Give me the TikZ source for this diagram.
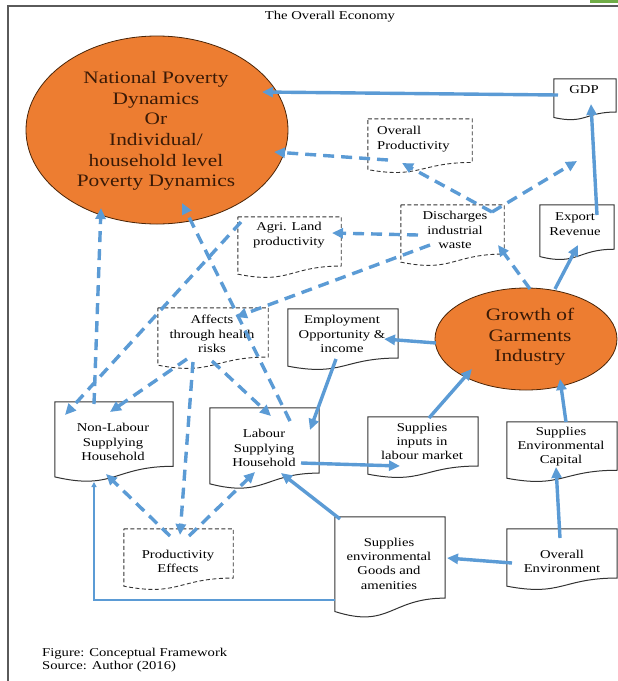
\documentclass[tikz,border=0pt]{standalone}
\usepackage{fontspec}
\setmainfont{Liberation Serif}[FakeStretch=1.22]
\usetikzlibrary{arrows.meta,shapes.geometric,calc}
\definecolor{lineblue}{HTML}{5B9BD5}
\definecolor{orangefill}{HTML}{ED7D31}
\definecolor{ellborder}{HTML}{4A2508}
\definecolor{elltext}{HTML}{3A1A06}
\definecolor{framegray}{HTML}{5A5A5A}
\definecolor{greenbit}{HTML}{70AD47}
% document-shaped box: name, style, x1, y1, x2, y2 (pixel coords, y downwards)
\newcommand\docshape[6]{%
  \node[inner sep=0pt, minimum width={(#5-#3)*1pt}, minimum height={(#6-#4)*1pt}] (#1) at ({(#3+#5)/2},{(#4+#6)/2}) {};
  \draw[#2] (#1.north west) -- (#1.north east) -- ($(#1.north east)!0.802!(#1.south east)$)
    .. controls ($(#1.north)!0.802!(#1.south)$) and ($(#1.north)!1.107!(#1.south)$) .. ($(#1.north west)!0.934!(#1.south west)$) -- cycle;
}
\begin{document}
\begin{tikzpicture}[x=1pt,y=-1pt,
  sarrow/.style={draw=lineblue, line width=3.4pt, -{Triangle[length=11pt,width=10pt]}},
  darrow/.style={sarrow, dash pattern=on 11pt off 7pt},
  thinarrow/.style={draw=lineblue, line width=1.8pt, -{Triangle[length=5pt,width=5pt]}},
  sbox/.style={draw=black!80, line width=1pt},
  dbox/.style={draw=black!80, line width=0.9pt, dash pattern=on 4pt off 2.5pt},
  txt/.style={font=\fontsize{12}{14.3}\selectfont, align=center, inner sep=0pt},
  bigtxt/.style={font=\fontsize{17.5}{20.6}\selectfont, align=center, inner sep=0pt, text=elltext},
  orangeell/.style={ellipse, draw=ellborder, fill=orangefill, line width=0.8pt, inner sep=0pt}]
\useasboundingbox (0,0) rectangle (618,681);
\fill[white] (0,0) rectangle (618,681);
\fill[greenbit] (590,0) rectangle (618,3);
\draw[framegray, line width=2pt] (8,700) -- (8,6) -- (630,6);

\node[txt] (title) at (330,17) {The Overall Economy};

% ellipses
\node[orangeell, minimum width=262pt, minimum height=188pt] (pov) at (157,130) {};
\node[orangeell, minimum width=182pt, minimum height=102pt] (gr) at (526,339) {};
\node[bigtxt] (povt) at (156,131) {National Poverty\\Dynamics\\Or\\Individual/\\household level\\Poverty Dynamics};
\node[bigtxt] (grt) at (530,337) {Growth of\\Garments\\Industry};

% boxes
\docshape{gdp}{sbox}{554}{79}{616}{120}
\docshape{ovp}{dbox}{368}{119}{472}{173}
\docshape{agri}{dbox}{238}{217}{341}{278}
\docshape{dis}{dbox}{401}{205}{504}{266}
\docshape{exrev}{sbox}{540}{205}{614}{260}
\docshape{aff}{dbox}{158}{308}{268}{369}
\docshape{emp}{sbox}{288}{309}{398}{370}
\docshape{nl}{sbox}{55}{402}{173}{482}
\docshape{lab}{sbox}{210}{408}{319}{489}
\docshape{inp}{sbox}{368}{417}{478}{478}
\docshape{envcap}{sbox}{507}{422}{617}{482}
\docshape{goods}{sbox}{335}{517}{445}{618}
\docshape{oenv}{sbox}{507}{529}{617}{590}
\docshape{pe}{dbox}{124}{529}{233}{590}

% box texts
\node[txt] (gdpt) at (584,90) {GDP};
\node[txt, align=left, anchor=west] (ovpt) at (377,139) {Overall\\Productivity};
\node[txt] (agrit) at (289,235) {Agri. Land\\productivity};
\node[txt] (dist) at (455,230) {Discharges\\industrial\\waste};
\node[txt] (exrevt) at (575,224) {Export\\Revenue};
\node[txt] (afft) at (212,334) {Affects\\through health\\risks};
\node[txt] (empt) at (342,334) {Employment\\Opportunity \&\\income};
\node[txt] (nlt) at (113,442) {Non-Labour\\Supplying\\Household};
\node[txt] (labt) at (264,448) {Labour\\Supplying\\Household};
\node[txt] (inpt) at (422,441.5) {Supplies\\inputs in\\labour market};
\node[txt] (envcapt) at (561,446.5) {Supplies\\Environmental\\Capital};
\node[txt] (goodst) at (389,563.5) {Supplies\\environmental\\Goods and\\amenities};
\node[txt] (oenvt) at (562,561.5) {Overall\\Environment};
\node[txt] (pet) at (178,561.5) {Productivity\\Effects};
\node[font=\fontsize{12}{13.3}\selectfont, align=left, inner sep=0pt, anchor=west] (foot) at (42,660) {Figure: Conceptual Framework\\Source: Author (2016)};

% solid connectors
\draw[sarrow] ($(gdp.center)+(-27,-4.5)$) -- ($(pov.center)+(105,-38)$);
\draw[sarrow] ($(exrev.center)+(20,-17.5)$) -- ($(gdp.center)+(6,4.5)$);
\draw[sarrow] ($(gr.center)+(29,-50)$) -- ($(exrev.center)+(1,12.5)$);
\draw[sarrow] ($(gr.center)+(-90,4)$) -- ($(emp.center)+(41,-0.5)$);
\draw[sarrow] ($(emp.center)+(-7,19.5)$) -- ($(lab.center)+(45.5,-18.5)$);
\draw[sarrow] ($(inp.center)+(6,-29.5)$) -- ($(gr.center)+(-54,30)$);
\draw[sarrow] ($(envcap.center)+(4,-30)$) -- ($(gr.center)+(34,40)$);
\draw[sarrow] ($(oenv.center)+(-2,-21.5)$) -- ($(envcap.center)+(-6,15)$);
\draw[sarrow] ($(oenv.center)+(-50,3.5)$) -- ($(goods.center)+(57,-9.5)$);
\draw[sarrow] ($(goods.center)+(-50,-48.5)$) -- ($(lab.center)+(16.5,24.5)$);
\draw[sarrow] ($(lab.center)+(36.5,14.5)$) -- ($(inp.center)+(-23,18.5)$);
\draw[thinarrow] ($(goods.center)+(-55,32.5)$) -| ($(nl.center)+(-20,40)$);

% dashed connectors
\draw[darrow] ($(dis.center)+(39.5,-23.5)$) -- ($(ovp.center)+(-18,17)$);
\draw[darrow] ($(dis.center)+(39.5,-23.5)$) -- ($(gdp.center)+(-8,61.5)$);
\draw[darrow] ($(ovp.center)+(-32,14)$) -- ($(pov.center)+(117,22)$);
\draw[darrow] ($(gr.center)+(4,-50)$) -- ($(dis.center)+(45.5,9.5)$);
\draw[darrow] ($(dis.center)+(-34.5,-0.5)$) -- ($(agri.center)+(42.5,-14.5)$);
\draw[darrow] ($(dis.center)+(-22.5,9.5)$) -- ($(aff.center)+(23,-21.5)$);
\draw[darrow] ($(agri.center)+(-48.5,-25.5)$) -- ($(nl.center)+(-49,-27)$);
\draw[darrow] ($(aff.center)+(-26,20.5)$) -- ($(nl.center)+(-4,-30)$);
\draw[darrow] ($(nl.center)+(-20,-38)$) -- ($(pov.center)+(-56,78)$);
\draw[darrow] ($(lab.center)+(25.5,-27.5)$) -- ($(pov.center)+(25,73)$);
\draw[darrow] ($(aff.center)+(-1,22.5)$) -- ($(lab.center)+(6.5,-32.5)$);
\draw[darrow] ($(aff.center)+(-20,23.5)$) -- ($(pe.center)+(1.5,-24.5)$);
\draw[darrow] ($(pe.center)+(-8.5,-23.5)$) -- ($(nl.center)+(-8,32)$);
\draw[darrow] ($(pe.center)+(10.5,-23.5)$) -- ($(lab.center)+(-9.5,23.5)$);
\end{tikzpicture}
\end{document}
